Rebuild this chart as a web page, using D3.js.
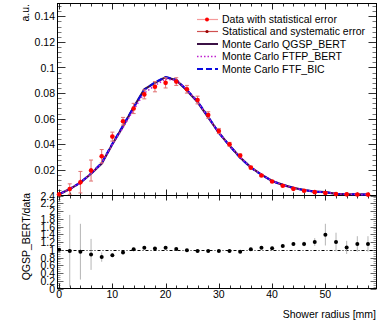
<!DOCTYPE html>
<html>
<head>
<meta charset="UTF-8">
<style>
  body { margin: 0; background: #fff; }
  svg { display: block; font-family: "Liberation Sans", Arial, sans-serif; }
</style>
</head>
<body>
<svg></svg>
<script src="https://d3js.org/d3.v7.min.js"></script>
<script>
// shower radius bins [mm]
const radius = [0, 2, 4, 6, 8, 10, 12, 14, 16, 18, 20, 22, 24, 26, 28, 30, 32, 34, 36, 38, 40, 42, 44, 46, 48, 50, 52, 54, 56, 58];
// data and errors
const dataVal = [0.001, 0.005, 0.0104, 0.0195, 0.0307, 0.046, 0.058, 0.068, 0.079, 0.085, 0.088, 0.089, 0.083, 0.0746, 0.0629, 0.0504, 0.040, 0.0312, 0.0218, 0.0156, 0.0109, 0.0076, 0.0052, 0.0037, 0.0026, 0.0019, 0.0011, 0.0009, 0.0008, 0.0007];
const statErr = [0.0002, 0.001, 0.002, 0.002, 0.0015, 0.001, 0.001, 0.001, 0.001, 0.001, 0.001, 0.001, 0.001, 0.001, 0.0008, 0.0007, 0.0006, 0.0005, 0.0004, 0.0003, 0.0003, 0.0002, 0.0002, 0.0002, 0.0001, 0.0001, 0.0001, 0.0001, 0.0001, 0.0001];
const sysErr = [0.0005, 0.0041, 0.0084, 0.0082, 0.0052, 0.0035, 0.003, 0.004, 0.0035, 0.004, 0.004, 0.003, 0.003, 0.003, 0.0025, 0.002, 0.0015, 0.0012, 0.001, 0.0008, 0.0006, 0.0005, 0.0004, 0.0004, 0.0003, 0.0003, 0.0003, 0.0002, 0.0002, 0.0002];
// Monte Carlo
const qgspBert = [0.001, 0.005, 0.010, 0.017, 0.025, 0.040, 0.054, 0.069, 0.083, 0.088, 0.0925, 0.090, 0.082, 0.073, 0.061, 0.049, 0.039, 0.0297, 0.022, 0.0163, 0.0114, 0.0083, 0.006, 0.0043, 0.0031, 0.0026, 0.0013, 0.00095, 0.0009, 0.0008];
const ftfpBert = [0.001, 0.005, 0.010, 0.017, 0.025, 0.040, 0.053, 0.067, 0.080, 0.086, 0.091, 0.090, 0.083, 0.073, 0.061, 0.049, 0.039, 0.030, 0.022, 0.0165, 0.0115, 0.0082, 0.006, 0.0043, 0.0031, 0.0025, 0.0014, 0.001, 0.0009, 0.0008];
const ftfBic = [0.001, 0.005, 0.0102, 0.0172, 0.0255, 0.0405, 0.0545, 0.069, 0.0825, 0.0885, 0.0925, 0.0905, 0.0825, 0.0735, 0.0615, 0.049, 0.039, 0.0295, 0.0218, 0.0162, 0.0113, 0.0082, 0.0059, 0.0042, 0.003, 0.0025, 0.0013, 0.001, 0.0009, 0.0008];
// ratio QGSP_BERT/data
const ratioVal = [1.0, 0.97, 0.95, 0.88, 0.81, 0.86, 0.93, 1.01, 1.05, 1.03, 1.05, 1.02, 0.99, 0.97, 0.97, 0.97, 0.97, 0.95, 1.01, 1.05, 1.04, 1.10, 1.15, 1.15, 1.20, 1.39, 1.20, 1.06, 1.15, 1.15];
const ratioErr = [0.03, 0.93, 0.72, 0.4, 0.12, 0.05, 0.03, 0.03, 0.03, 0.03, 0.03, 0.03, 0.03, 0.03, 0.03, 0.03, 0.03, 0.03, 0.03, 0.03, 0.04, 0.05, 0.05, 0.06, 0.1, 0.28, 0.24, 0.17, 0.2, 0.2];

const topTicks = ["0.02", "0.04", "0.06", "0.08", "0.1", "0.12", "0.14"];
const ratioTicks = ["0", "0.2", "0.4", "0.6", "0.8", "1", "1.2", "1.4", "1.6", "1.8", "2", "2.2", "2.4"];
const xTicks = [0, 10, 20, 30, 40, 50];

const legendLabels = ["Data with statistical error", "Statistical and systematic error", "Monte Carlo QGSP_BERT", "Monte Carlo FTFP_BERT", "Monte Carlo FTF_BIC"];

let width = 386, height = 323;
let svg = d3.select("svg").attr("width", width).attr("height", height);

let padL = 57.5, padR = 376.5, padT = 3.5, padM = 195.5, padB = 288.5;

let x = d3.scaleLinear().domain([-0.3, 59.6]).range([padL, padR]);
let y = d3.scaleLinear().domain([0, 0.15]).range([padM, padT]);
let yr = d3.scaleLinear().domain([0, 2.4]).range([padB, padM]);

let fs = 10.5;

// ticks helpers
function hTicks(vals, yPos, len, color) {
    svg.append("g").selectAll("line").data(vals).enter().append("line")
        .attr("x1", d => Math.round(x(d)) + 0.5).attr("x2", d => Math.round(x(d)) + 0.5)
        .attr("y1", yPos).attr("y2", yPos + len)
        .attr("stroke", color).attr("stroke-width", 1);
}
function vTicks(scale, vals, xPos, len, color) {
    svg.append("g").selectAll("line").data(vals).enter().append("line")
        .attr("y1", d => Math.round(scale(d)) + 0.5).attr("y2", d => Math.round(scale(d)) + 0.5)
        .attr("x1", xPos).attr("x2", xPos + len)
        .attr("stroke", color).attr("stroke-width", 1);
}

let xMinor = d3.range(0, 60, 2).filter(d => d % 10 != 0);
let xMajor = d3.range(0, 60, 10);

// top pad ticks
let yMinor = d3.range(0.004, 0.15, 0.004).filter(d => Math.abs(d / 0.02 - Math.round(d / 0.02)) > 0.01);
let yMajor = d3.range(0.02, 0.15, 0.02);
vTicks(y, yMinor, padL, 4, "#777");
vTicks(y, yMajor, padL, 8, "#333");
vTicks(y, yMinor, padR, -4, "#777");
vTicks(y, yMajor, padR, -8, "#333");
hTicks(xMinor, padM, -3, "#333");
hTicks(xMajor, padM, -6, "#222");
hTicks(xMinor, padT, 3, "#333");
hTicks(xMajor, padT, 6, "#222");

// ratio pad ticks
let rMinor = d3.range(0.05, 2.4, 0.05).filter(d => Math.abs(d / 0.2 - Math.round(d / 0.2)) > 0.01);
let rMajor = d3.range(0, 2.41, 0.2);
vTicks(yr, rMinor, padL, 3, "#999");
vTicks(yr, rMajor, padL, 6, "#666");
vTicks(yr, rMinor, padR, -3, "#999");
vTicks(yr, rMajor, padR, -6, "#666");
hTicks(xMinor, padM, 3, "#333");
hTicks(xMajor, padM, 5, "#222");
hTicks(xMinor, padB, -3, "#333");
hTicks(xMajor, padB, -5, "#222");

// frames
svg.append("rect").attr("x", padL).attr("y", padT).attr("width", padR - padL).attr("height", padM - padT)
    .attr("fill", "none").attr("stroke", "#000");
svg.append("rect").attr("x", padL).attr("y", padM).attr("width", padR - padL).attr("height", padB - padM)
    .attr("fill", "none").attr("stroke", "#000");

// tick labels
svg.append("g").selectAll("text").data(topTicks).enter().append("text")
    .attr("x", 55).attr("y", d => y(+d) + 4)
    .attr("text-anchor", "end").attr("font-size", fs).text(d => d);
svg.append("g").selectAll("text").data(ratioTicks).enter().append("text")
    .attr("x", 55).attr("y", d => yr(+d) + 4)
    .attr("text-anchor", "end").attr("font-size", fs).text(d => d);
svg.append("g").selectAll("text").data(xTicks).enter().append("text")
    .attr("x", d => x(d)).attr("y", 298)
    .attr("text-anchor", "middle").attr("font-size", fs).text(d => d);

// axis titles
svg.append("text").attr("transform", "translate(29,4) rotate(-90)")
    .attr("text-anchor", "end").attr("font-size", fs).text("a.u.");
svg.append("text").attr("transform", "translate(30,193) rotate(-90)")
    .attr("text-anchor", "end").attr("font-size", fs).text("QGSP_BERT/data");
svg.append("text").attr("x", 376).attr("y", 318)
    .attr("text-anchor", "end").attr("font-size", fs).text("Shower radius [mm]");

// top pad content
let plot = svg.append("g");
let idx = d3.range(radius.length);

// MC curves
let line = arr => d3.line().x((d, i) => x(radius[i])).y(d => y(d))(arr);
plot.append("path").attr("d", line(qgspBert)).attr("fill", "none")
    .attr("stroke", "#3b1145").attr("stroke-width", 2.2);
plot.append("path").attr("d", line(ftfBic)).attr("fill", "none")
    .attr("stroke", "#0a0adf").attr("stroke-width", 2).attr("stroke-dasharray", "6,3");
plot.append("path").attr("d", line(ftfpBert)).attr("fill", "none")
    .attr("stroke", "#c020d0").attr("stroke-width", 1.5).attr("stroke-dasharray", "1.5,2");

// sys error bars
plot.append("g").selectAll("g").data(idx).enter().append("g")
    .attr("stroke", "#e07070").attr("stroke-width", 1)
    .each(function (i) {
        let g = d3.select(this);
        let xx = x(radius[i]);
        let y1 = y(dataVal[i] + sysErr[i]), y2 = y(dataVal[i] - sysErr[i]);
        g.append("line").attr("x1", xx).attr("x2", xx).attr("y1", y1).attr("y2", Math.min(y2, padM));
        g.append("line").attr("x1", xx - 2).attr("x2", xx + 2).attr("y1", y1).attr("y2", y1);
        if (y2 < padM) g.append("line").attr("x1", xx - 2).attr("x2", xx + 2).attr("y1", y2).attr("y2", y2);
    });
// stat error bars
plot.append("g").selectAll("line").data(idx).enter().append("line")
    .attr("x1", i => x(radius[i])).attr("x2", i => x(radius[i]))
    .attr("y1", i => y(dataVal[i] + statErr[i])).attr("y2", i => y(dataVal[i] - statErr[i]))
    .attr("stroke", "#ff0000").attr("stroke-width", 1);
// data points
plot.append("g").selectAll("circle").data(idx).enter().append("circle")
    .attr("cx", i => x(radius[i])).attr("cy", i => y(dataVal[i])).attr("r", 2.3)
    .attr("fill", "#ff0000");

// legend
let lg = svg.append("g");
let ly = [19.5, 31.5, 44, 56.5, 69];
lg.selectAll("text").data(legendLabels).enter().append("text")
    .attr("x", 222).attr("y", (d, i) => ly[i] + 3.8).attr("font-size", fs).text(d => d);
lg.append("line").attr("x1", 197).attr("x2", 218).attr("y1", ly[0]).attr("y2", ly[0]).attr("stroke", "#f59a9a").attr("stroke-width", 1.2);
lg.append("circle").attr("cx", 207).attr("cy", ly[0]).attr("r", 2).attr("fill", "#ff0000");
lg.append("line").attr("x1", 197).attr("x2", 218).attr("y1", ly[1]).attr("y2", ly[1]).attr("stroke", "#d05050").attr("stroke-width", 1.2);
lg.append("circle").attr("cx", 207).attr("cy", ly[1]).attr("r", 1.6).attr("fill", "#990000");
lg.append("line").attr("x1", 197).attr("x2", 218).attr("y1", ly[2]).attr("y2", ly[2]).attr("stroke", "#3b1145").attr("stroke-width", 2);
lg.append("line").attr("x1", 197).attr("x2", 218).attr("y1", ly[3]).attr("y2", ly[3]).attr("stroke", "#c020d0").attr("stroke-width", 1.5).attr("stroke-dasharray", "1.5,2");
lg.append("line").attr("x1", 197).attr("x2", 218).attr("y1", ly[4]).attr("y2", ly[4]).attr("stroke", "#0a0adf").attr("stroke-width", 2).attr("stroke-dasharray", "6,3");

// ratio pad
svg.append("line").attr("x1", padL).attr("x2", padR).attr("y1", Math.round(yr(1)) + 0.5).attr("y2", Math.round(yr(1)) + 0.5)
    .attr("stroke", "#000").attr("stroke-width", 1).attr("stroke-dasharray", "3,2,1,2");
svg.append("g").selectAll("line").data(idx).enter().append("line")
    .attr("x1", i => x(radius[i])).attr("x2", i => x(radius[i]))
    .attr("y1", i => yr(Math.min(2.4, ratioVal[i] + ratioErr[i]))).attr("y2", i => yr(Math.max(0, ratioVal[i] - ratioErr[i])))
    .attr("stroke", "#b5b5b5").attr("stroke-width", 1);
svg.append("g").selectAll("circle").data(idx).enter().append("circle")
    .attr("cx", i => x(radius[i])).attr("cy", i => yr(ratioVal[i])).attr("r", 2)
    .attr("fill", "#000");
</script>
</body>
</html>
